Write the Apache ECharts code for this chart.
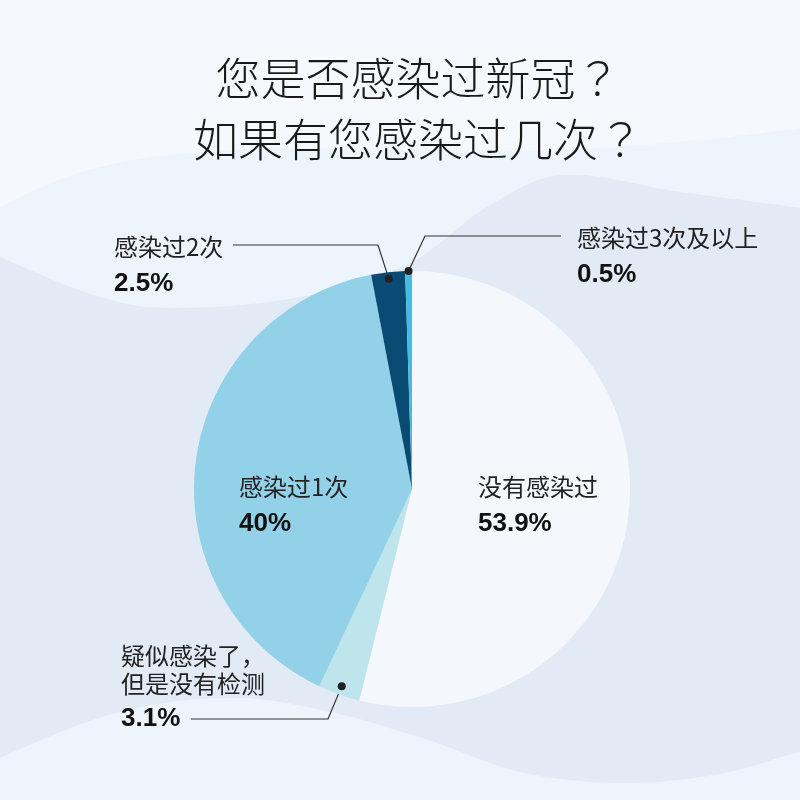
<!DOCTYPE html>
<html>
<head>
<meta charset="utf-8">
<title>感染新冠调查</title>
<script src="https://cdn.jsdelivr.net/npm/echarts@6/dist/echarts.min.js"></script>
<style>
  html, body { margin: 0; padding: 0; background: #f5f8fc; }
  #mychart { width: 800px; height: 800px; }
</style>
</head>
<body>
<div id="mychart"></div>
<script>
// data
const categories = ['没有感染过', '疑似感染了，\n但是没有检测', '感染过1次', '感染过2次', '感染过3次及以上'];
const values = [53.9, 3.1, 40, 2.5, 0.5];
const valueLabels = ['53.9%', '3.1%', '40%', '2.5%', '0.5%'];
const titleLines = ['您是否感染过新冠', '如果有您感染过几次'];

let myChart;
let colors = {
  slices: ['#f4f8fd', '#bde5eb', '#93d1e8', '#0a4b74', '#45bde2'],
  bgTop: '#f5f8fc',
  bgMid: '#eef4fb',
  bgDeep: '#e2ebf5',
  text: '#222222',
  percent: '#111111',
  line: '#333333',
};

// 圓餅位置
const PIE_CX = 412;
const PIE_CY = 489;
const PIE_R = 218;

// 標籤擺放 (x, y 為文字區塊左上角), line 為引線轉折與終點, dot 為引線起點半徑比例
const labelPlaces = [
  { x: 478, y: 473 },
  { x: 121, y: 642, dot: 0.96, line: [[328, 719], [191, 719]] },
  { x: 239, y: 473 },
  { x: 114, y: 233, dot: 0.97, line: [[378, 245], [233, 245]] },
  { x: 577, y: 224, dot: 1.0, line: [[425, 236], [561, 236]] },
];
let dotPoints = {};

// 背景波浪
function wave(id, z, points, fill) {
  return {
    id: id, type: 'polygon', z: z, silent: true,
    shape: { points: points, smooth: 0.35 },
    style: { fill: fill },
  };
}
const bgElements = [
  wave('bg-mid', -10, [[-60, 250], [0, 207], [100, 167], [230, 150], [400, 150], [560, 150], [700, 140], [800, 128], [870, 118], [870, 900], [-60, 900]], colors.bgMid),
  wave('bg-deep', -9, [[-60, 230], [0, 257], [100, 297], [170, 308], [300, 297], [408, 264], [490, 205], [562, 175], [680, 192], [800, 208], [870, 220], [870, 900], [-60, 900]], colors.bgDeep),
  wave('bg-bottom', -8, [[-60, 790], [0, 758], [120, 712], [235, 698], [330, 712], [428, 740], [520, 772], [622, 783], [720, 774], [800, 752], [870, 738], [870, 900], [-60, 900]], colors.bgMid),
];

const titleFont = {
  fontFamily: '"Noto Sans CJK SC", sans-serif',
  fontWeight: 300,
  fontSize: 45,
  lineHeight: 61,
  color: '#1a1a1a',
};

let option = {
  animation: false,
  backgroundColor: colors.bgTop,
  title: {
    text: titleLines.map((t) => '{t|' + t + '}{q|？}').join('\n'),
    left: 418,
    textAlign: 'center',
    top: 48,
    padding: 0,
    textStyle: {
      rich: {
        t: titleFont,
        q: Object.assign({}, titleFont, { fontFamily: '"Noto Sans CJK JP", sans-serif' }),
      },
    },
  },
  graphic: { elements: bgElements },
  series: [
    {
      type: 'pie',
      center: [PIE_CX, PIE_CY],
      radius: PIE_R,
      startAngle: 90,
      clockwise: true,
      avoidLabelOverlap: false,
      silent: true,
      label: {
        show: true,
        position: 'outside',
        overflow: 'none',
        formatter: function (p) {
          const names = categories[p.dataIndex].split('\n').map((n) => '{n|' + n + '}');
          const pLine = p.dataIndex === 1 ? '{p3|' + valueLabels[p.dataIndex] + '}' : '{p|' + valueLabels[p.dataIndex] + '}';
          return names.join('\n') + '\n' + pLine;
        },
        rich: {
          n: {
            fontFamily: '"Noto Sans CJK SC", sans-serif',
            fontSize: 24,
            lineHeight: 28,
            color: colors.text,
          },
          p: {
            fontFamily: '"Liberation Sans", Arial, sans-serif',
            fontWeight: 'bold',
            fontSize: 26,
            lineHeight: 46,
            color: colors.percent,
          },
          p3: {
            fontFamily: '"Liberation Sans", Arial, sans-serif',
            fontWeight: 'bold',
            fontSize: 26,
            lineHeight: 42,
            color: colors.percent,
          },
        },
      },
      labelLine: {
        show: true,
        lineStyle: { color: colors.line, width: 1.2 },
      },
      labelLayout: function (params) {
        const place = labelPlaces[params.dataIndex];
        const out = { x: place.x, y: place.y, align: 'left', verticalAlign: 'top' };
        if (place.line && params.labelLinePoints) {
          const edge = params.labelLinePoints[0];
          const dot = [
            PIE_CX + (edge[0] - PIE_CX) * place.dot,
            PIE_CY + (edge[1] - PIE_CY) * place.dot,
          ];
          dotPoints[params.dataIndex] = dot;
          out.labelLinePoints = [dot, place.line[0], place.line[1]];
        }
        return out;
      },
      data: categories.map((name, i) => ({
        name: name,
        value: values[i],
        itemStyle: { color: colors.slices[i] },
        labelLine: { show: !!labelPlaces[i].line },
      })),
    },
  ],
};

function initChart() {
  let chartDom = document.getElementById('mychart');
  myChart = echarts.init(chartDom);
  myChart.setOption(option);
  addDots();
}

// 引線起點的圓點
function addDots() {
  let dots = Object.keys(dotPoints).map((k) => ({
    id: 'dot-' + k,
    type: 'circle',
    z: 10,
    silent: true,
    shape: { cx: dotPoints[k][0], cy: dotPoints[k][1], r: 4 },
    style: { fill: '#222222' },
  }));
  myChart.setOption({ graphic: { elements: bgElements.concat(dots) } });
}

initChart();
</script>
</body>
</html>
